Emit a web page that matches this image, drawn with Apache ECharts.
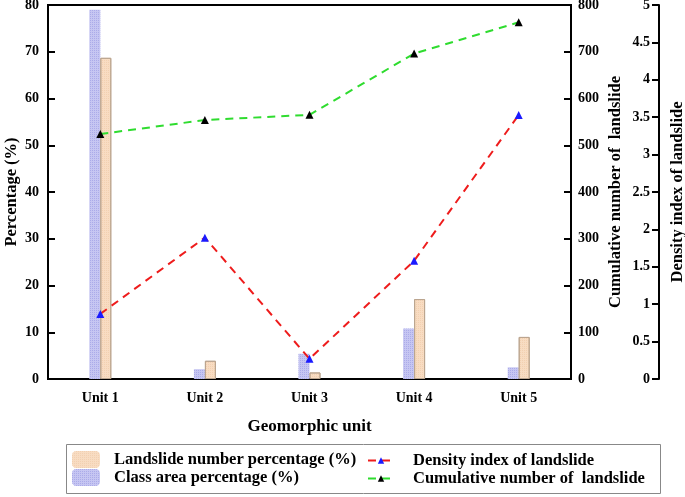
<!DOCTYPE html>
<html>
<head>
<meta charset="utf-8">
<script src="https://cdn.jsdelivr.net/npm/echarts@6/dist/echarts.min.js"></script>
<style>html,body{margin:0;padding:0;background:#fff;}#c{width:685px;height:497px;}</style>
</head>
<body>
<div id="c"></div>
<script>
const categories = ['Unit 1', 'Unit 2', 'Unit 3', 'Unit 4', 'Unit 5'];
const classAreaPct = [79.0, 2.1, 5.4, 10.8, 2.5];
const landslidePct = [68.7, 3.9, 1.4, 17.1, 9.0];
const cumulativeNum = [524, 554, 565, 696, 763];
const densityIndex = [0.87, 1.89, 0.27, 1.58, 3.53];

const FONT = 'Liberation Serif';
const chart = echarts.init(document.getElementById('c'));
const lblStyle = { fontFamily: FONT, fontWeight: 'bold', fontSize: 14, color: '#000' };
const nameStyle = { fontFamily: FONT, fontWeight: 'bold', fontSize: 16.5, color: '#000' };
const axLine = { show: true, lineStyle: { color: '#000', width: 2 } };
const legText = { fontFamily: FONT, fontWeight: 'bold', fontSize: 16.5, color: '#000' };

function barLegend(name, top) {
  return {
    orient: 'vertical', left: 72, top: top, itemWidth: 28, itemHeight: 17, padding: 0,
    data: [name], itemStyle: { borderWidth: 0 },
    textStyle: Object.assign({ padding: [0, 0, 0, 9] }, legText)
  };
}
function lineLegend(name, top) {
  return {
    orient: 'vertical', left: 367, top: top, itemWidth: 26, itemHeight: 8, padding: 0,
    data: [name],
    textStyle: Object.assign({ padding: [0, 0, 0, 14] }, legText)
  };
}

chart.setOption({
  animation: false,
  backgroundColor: '#fff',
  grid: { left: 48, right: 114, top: 5, bottom: 118, outerBoundsMode: 'none', containLabel: false,
          show: true, borderColor: '#000', borderWidth: 2, backgroundColor: 'transparent' },
  graphic: [{
    type: 'rect', left: 64, top: 442, shape: { width: 594, height: 49 },
    style: { fill: 'none', stroke: '#888', lineWidth: 1 }, z: 0
  }],
  legend: [
    barLegend('Landslide number percentage (%)', 451),
    barLegend('Class area percentage (%)', 469),
    lineLegend('Density index of landslide', 452),
    lineLegend('Cumulative number of  landslide', 470)
  ],
  xAxis: {
    type: 'category', data: categories, boundaryGap: true,
    name: 'Geomorphic unit', nameLocation: 'middle', nameGap: 39, nameMoveOverlap: false,
    nameTextStyle: Object.assign({}, nameStyle, { fontSize: 17 }),
    axisLine: axLine,
    axisTick: { alignWithLabel: true, length: 6, lineStyle: { color: '#000', width: 2 } },
    axisLabel: Object.assign({ margin: 12 }, lblStyle),
    splitLine: { show: false }
  },
  yAxis: [{
    type: 'value', min: 0, max: 80, interval: 10, position: 'left',
    name: 'Percentage (%)', nameLocation: 'middle', nameGap: 28, nameRotate: 90, nameMoveOverlap: false,
    nameTextStyle: nameStyle,
    axisLine: axLine,
    axisTick: { show: true, inside: true, length: 7, lineStyle: { color: '#000', width: 2 } },
    axisLabel: Object.assign({ margin: 9 }, lblStyle),
    splitLine: { show: false }
  }, {
    type: 'value', min: 0, max: 800, interval: 100, position: 'right',
    name: 'Cumulative number of  landslide', nameLocation: 'middle', nameGap: 36, nameRotate: 90, nameMoveOverlap: false,
    nameTextStyle: nameStyle,
    axisLine: axLine,
    axisTick: { show: true, inside: true, length: 7, lineStyle: { color: '#000', width: 2 } },
    axisLabel: Object.assign({ margin: 7 }, lblStyle),
    splitLine: { show: false }
  }, {
    type: 'value', min: 0, max: 5, interval: 0.5, position: 'right', offset: 88,
    name: 'Density index of landslide', nameLocation: 'middle', nameGap: 10, nameRotate: 90, nameMoveOverlap: false,
    nameTextStyle: nameStyle,
    axisLine: axLine,
    axisTick: { show: true, inside: true, length: 7, lineStyle: { color: '#000', width: 2 } },
    axisLabel: Object.assign({ inside: true, margin: 9 }, lblStyle),
    splitLine: { show: false }
  }],
  series: [{
    name: 'Class area percentage (%)', type: 'bar', yAxisIndex: 0, data: classAreaPct,
    barWidth: 11, barGap: '0%',
    itemStyle: {
      color: '#c6c6f2',
      decal: { symbol: 'rect', symbolSize: 1, dashArrayX: [1, 1], dashArrayY: [1, 1], color: 'rgba(150,150,225,0.55)' }
    }
  }, {
    name: 'Landslide number percentage (%)', type: 'bar', yAxisIndex: 0, data: landslidePct,
    barWidth: 11,
    itemStyle: {
      color: '#f8dcc2', borderColor: '#bba58f', borderWidth: 1,
      decal: { symbol: 'rect', symbolSize: 1, dashArrayX: [1, 1], dashArrayY: [1, 1], color: 'rgba(235,195,160,0.5)' }
    }
  }, {
    name: 'Density index of landslide', type: 'line', yAxisIndex: 2, data: densityIndex,
    symbol: 'triangle', symbolSize: 8, showAllSymbol: true,
    lineStyle: { color: '#ee1c1c', width: 2, type: [8, 6] },
    itemStyle: { color: '#1a1aff' }, z: 5
  }, {
    name: 'Cumulative number of  landslide', type: 'line', yAxisIndex: 1, data: cumulativeNum,
    symbol: 'triangle', symbolSize: 8, showAllSymbol: true,
    lineStyle: { color: '#2fdc2f', width: 2, type: [8, 6] },
    itemStyle: { color: '#000' }, z: 5
  }]
});
</script>
</body>
</html>
